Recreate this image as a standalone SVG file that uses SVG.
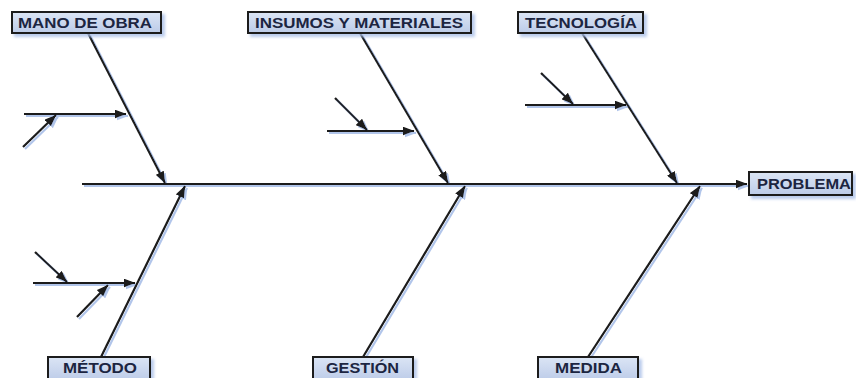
<svg xmlns="http://www.w3.org/2000/svg" width="856" height="378" viewBox="0 0 856 378">
  <defs>
    <linearGradient id="boxFill" x1="0" y1="0" x2="0" y2="1">
      <stop offset="0" stop-color="#dbe5f5"/>
      <stop offset="1" stop-color="#bccbe8"/>
    </linearGradient>
    <filter id="lineShadow" x="-10%" y="-10%" width="120%" height="120%">
      <feDropShadow dx="2" dy="2" stdDeviation="0.7" flood-color="#a9bfe8" flood-opacity="0.9"/>
    </filter>
    <filter id="boxShadow" x="-10%" y="-30%" width="125%" height="170%">
      <feDropShadow dx="3" dy="3" stdDeviation="1.5" flood-color="#a9bfe8" flood-opacity="0.8"/>
    </filter>
    <marker id="arrow" viewBox="0 0 12 9" refX="11.5" refY="4.5" markerWidth="12" markerHeight="9" markerUnits="userSpaceOnUse" orient="auto">
      <path d="M0,0 L12,4.5 L0,9 Z" fill="#1a1a1a"/>
    </marker>
  </defs>
  <style>
    .box { fill: url(#boxFill); stroke: #1a1a1a; stroke-width: 2; filter: url(#boxShadow); }
    .label { font-family: "Liberation Sans", Arial, sans-serif; font-weight: bold; font-size: 14px; fill: #1c2541; }
    .line { stroke: #1a1a1a; stroke-width: 2.2; fill: none; }
    .arr { marker-end: url(#arrow); }
  </style>

  <rect width="856" height="378" fill="#ffffff"/>

  <g id="connectors" filter="url(#lineShadow)">
    <!-- spine -->
    <line class="line arr" x1="82" y1="184" x2="747" y2="184"/>
    <!-- top bones -->
    <line class="line arr" x1="88" y1="33" x2="165" y2="183"/>
    <line class="line arr" x1="360" y1="33" x2="448" y2="183"/>
    <line class="line arr" x1="582" y1="33" x2="677" y2="183"/>
    <!-- bottom bones -->
    <line class="line arr" x1="101" y1="357" x2="185" y2="186"/>
    <line class="line arr" x1="363" y1="357" x2="465" y2="186"/>
    <line class="line arr" x1="588" y1="357" x2="700" y2="186"/>
    <!-- sub-branches: mano de obra -->
    <line class="line arr" x1="24" y1="114" x2="126" y2="114"/>
    <line class="line arr" x1="23" y1="147" x2="56" y2="115"/>
    <!-- sub-branches: insumos y materiales -->
    <line class="line arr" x1="327" y1="131" x2="414" y2="131"/>
    <line class="line arr" x1="335" y1="98" x2="367" y2="130"/>
    <!-- sub-branches: tecnologia -->
    <line class="line arr" x1="525" y1="105" x2="626" y2="105"/>
    <line class="line arr" x1="541" y1="73" x2="573" y2="104"/>
    <!-- sub-branches: metodo -->
    <line class="line arr" x1="33" y1="283" x2="135" y2="283"/>
    <line class="line arr" x1="35" y1="252" x2="67" y2="282"/>
    <line class="line arr" x1="77" y1="317" x2="108" y2="285"/>
  </g>

  <g id="mano-de-obra">
    <rect class="box" x="12" y="12" width="149" height="21"/>
    <text class="label" x="18" y="28" textLength="134" lengthAdjust="spacingAndGlyphs">MANO DE OBRA</text>
  </g>
  <g id="insumos-y-materiales">
    <rect class="box" x="248" y="12" width="223" height="21"/>
    <text class="label" x="255" y="28" textLength="208" lengthAdjust="spacingAndGlyphs">INSUMOS Y MATERIALES</text>
  </g>
  <g id="tecnologia">
    <rect class="box" x="518" y="12" width="125" height="21"/>
    <text class="label" x="525" y="28" textLength="112" lengthAdjust="spacingAndGlyphs">TECNOLOGÍA</text>
  </g>
  <g id="problema">
    <rect class="box" x="749" y="172" width="103" height="23"/>
    <text class="label" x="757" y="189" textLength="94" lengthAdjust="spacingAndGlyphs">PROBLEMA</text>
  </g>
  <g id="metodo">
    <rect class="box" x="48" y="357" width="102" height="24"/>
    <text class="label" x="63" y="373" textLength="74" lengthAdjust="spacingAndGlyphs">MÉTODO</text>
  </g>
  <g id="gestion">
    <rect class="box" x="313" y="357" width="100" height="24"/>
    <text class="label" x="326" y="373" textLength="73" lengthAdjust="spacingAndGlyphs">GESTIÓN</text>
  </g>
  <g id="medida">
    <rect class="box" x="538" y="357" width="100" height="24"/>
    <text class="label" x="555" y="373" textLength="67" lengthAdjust="spacingAndGlyphs">MEDIDA</text>
  </g>
</svg>
